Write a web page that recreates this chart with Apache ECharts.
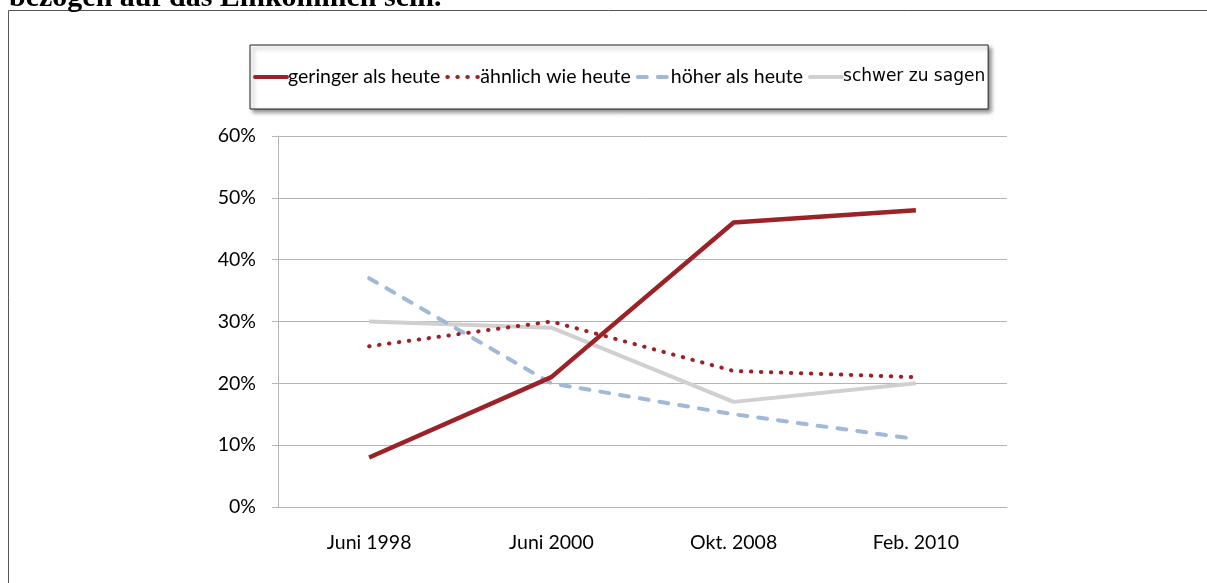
<!DOCTYPE html>
<html>
<head>
    <meta charset="utf-8">
    <title>chart</title>
    <script src="https://cdn.jsdelivr.net/npm/echarts@6/dist/echarts.min.js"></script>
    <style>
        html, body { margin: 0; padding: 0; background: #fff; }
        #main { width: 1207px; height: 583px; }
    </style>
</head>
<body>
<div id="main"></div>
<script>
    // Kategorien und Werte (Prozent)
    var categories = ['Juni 1998', 'Juni 2000', 'Okt. 2008', 'Feb. 2010'];
    var geringer = [8, 21, 46, 48];
    var aehnlich = [26, 30, 22, 21];
    var hoeher = [37, 20, 15, 11];
    var schwer = [30, 29, 17, 20];
    var seriesNames = ['geringer als heute', 'ähnlich wie heute', 'höher als heute', 'schwer zu sagen'];

    var font = 'Lato';
    var chart = echarts.init(document.getElementById('main'));

    chart.setOption({
        animation: false,
        graphic: [
            {
                type: 'text',
                left: 9,
                top: -17,
                style: {
                    text: 'bezogen auf das Einkommen sein.',
                    font: 'bold 30px "Liberation Serif"',
                    fill: '#000'
                }
            },
            {
                type: 'rect',
                shape: { x: 8.5, y: 10.5, width: 1250, height: 650 },
                style: { fill: 'none', stroke: '#555', lineWidth: 1 },
                z: -1
            }
        ],
        legend: {
            left: 250,
            top: 45,
            padding: [22, 3, 22, 3],
            itemGap: 5,
            itemWidth: 32,
            itemHeight: 14,
            borderColor: '#222',
            borderWidth: 1,
            backgroundColor: '#fff',
            shadowColor: 'rgba(0,0,0,0.45)',
            shadowBlur: 4,
            shadowOffsetX: 3,
            shadowOffsetY: 3,
            itemStyle: { opacity: 0 },
            lineStyle: { width: 4, cap: 'round' },
            textStyle: { fontFamily: font, fontSize: 19.5, color: '#000', padding: [0, 0, 0, -4] },
            data: [
                { name: seriesNames[0] },
                { name: seriesNames[1] },
                { name: seriesNames[2] },
                { name: seriesNames[3], textStyle: { fontFamily: 'DejaVu Sans', fontSize: 17, padding: [3, 0, 0, -4] } }
            ]
        },
        grid: { left: 278, right: 200, top: 136, bottom: 76 },
        xAxis: {
            type: 'category',
            data: categories,
            boundaryGap: true,
            axisLine: { lineStyle: { color: '#b5b5b5' } },
            axisTick: { length: 6, lineStyle: { color: '#b5b5b5' } },
            axisLabel: { margin: 26, fontFamily: font, fontSize: 19.5, color: '#000' }
        },
        yAxis: {
            type: 'value',
            min: 0,
            max: 60,
            interval: 10,
            axisLine: { show: true, lineStyle: { color: '#b5b5b5' } },
            axisTick: { show: true, length: 6, lineStyle: { color: '#b5b5b5' } },
            axisLabel: { margin: 22, fontFamily: font, fontSize: 19.5, color: '#000', formatter: '{value}%' },
            splitLine: { lineStyle: { color: '#b5b5b5' } }
        },
        series: [
            {
                name: seriesNames[0],
                type: 'line',
                data: geringer,
                symbol: 'none',
                color: '#9b2226',
                lineStyle: { width: 4.5, color: '#9b2226' },
                z: 5
            },
            {
                name: seriesNames[1],
                type: 'line',
                data: aehnlich,
                symbol: 'none',
                color: '#9b2226',
                lineStyle: { width: 4, color: '#9b2226', type: [0.5, 9.5], cap: 'round' },
                z: 4
            },
            {
                name: seriesNames[2],
                type: 'line',
                data: hoeher,
                symbol: 'none',
                color: '#a0b9d9',
                lineStyle: { width: 4, color: '#a0b9d9', type: [9, 11], cap: 'round' },
                z: 3
            },
            {
                name: seriesNames[3],
                type: 'line',
                data: schwer,
                symbol: 'none',
                color: '#d0d0d0',
                lineStyle: { width: 4, color: '#d0d0d0' },
                z: 2
            }
        ]
    });
</script>
</body>
</html>
